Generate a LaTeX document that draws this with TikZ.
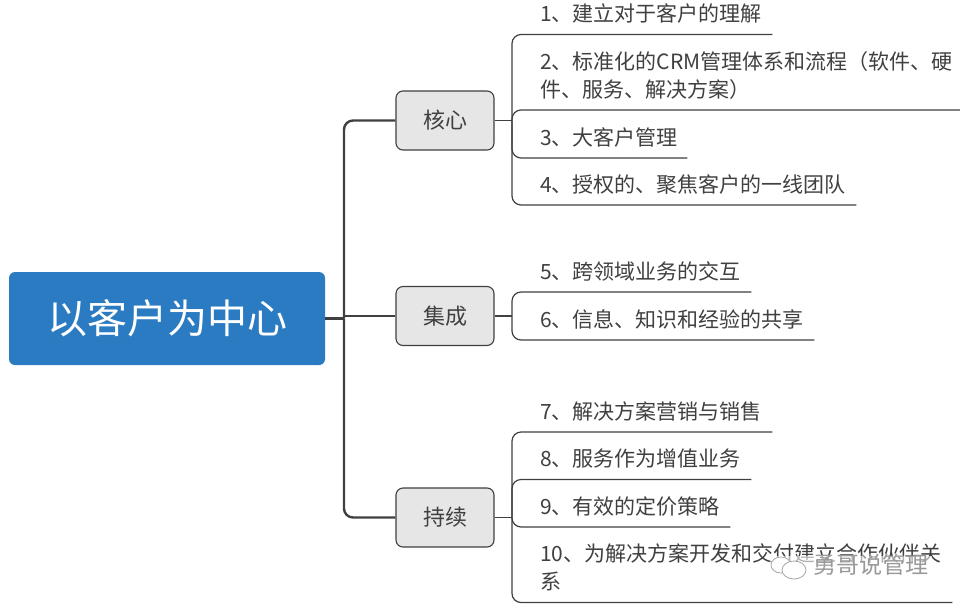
\documentclass[tikz,border=0pt]{standalone}
\usepackage{fontspec}
\setmainfont{Noto Sans CJK SC}
\definecolor{rootblue}{HTML}{2B7BC2}
\definecolor{inkgrey}{HTML}{404040}
\definecolor{topicgrey}{HTML}{E6E6E6}
\tikzset{
  rootbox/.style={draw=none,fill=rootblue,rounded corners=6pt,text=white,font=\fontsize{40}{44}\selectfont,minimum width=316pt,minimum height=93pt},
  topicbox/.style={draw=inkgrey,line width=1.1pt,fill=topicgrey,rounded corners=7pt,text=inkgrey,font=\fontsize{22}{26}\selectfont,minimum width=98pt,minimum height=59pt},
  leafitem/.style={anchor=south west,inner xsep=0pt,inner ysep=7.5pt,text depth=5pt,align=left,text=inkgrey,font=\fontsize{21}{28}\selectfont},
  trunkline/.style={draw=inkgrey,line width=2.4pt,rounded corners=9pt},
  leafline/.style={draw=inkgrey,line width=1.2pt,rounded corners=9pt},
}
\begin{document}
\begin{tikzpicture}[x=1pt,y=-1pt]
\path[use as bounding box,fill=white] (0,0) rectangle (960,608);
% main topic and the three groups
\node[rootbox] (root) at (167,318.5) {以客户为中心};
\node[topicbox] (hexin) at (445,120.5) {核心};
\node[topicbox] (jicheng) at (445,316) {集成};
\node[topicbox] (chixu) at (445,517.5) {持续};
\coordinate (trunk) at (344,318.5);
\coordinate (hubhexin) at (512,120.5);
\coordinate (hubjicheng) at (512,316);
\coordinate (hubchixu) at (512,517.5);
\draw[trunkline] (root.east) -- (trunk);
\draw[trunkline] (trunk) |- (hexin.west);
\draw[trunkline] (trunk) |- (chixu.west);
\draw[draw=inkgrey,line width=1.3pt] (trunk|-jicheng.west) -- (jicheng.west);
% leaves
\node[leafitem,text width=232pt] (leafa) at (540,34.5) {1、建立对于客户的理解};
\node[leafitem,text width=420pt,text depth=33pt] (leafb) at (540,110) {2、标准化的CRM管理体系和流程（软件、硬\\件、服务、解决方案）};
\node[leafitem,text width=147pt] (leafc) at (540,158) {3、大客户管理};
\node[leafitem,text width=316pt] (leafd) at (540,205) {4、授权的、聚焦客户的一线团队};
\node[leafitem,text width=211pt] (leafe) at (540,292) {5、跨领域业务的交互};
\node[leafitem,text width=274pt] (leaff) at (540,340) {6、信息、知识和经验的共享};
\node[leafitem,text width=232pt] (leafg) at (540,432) {7、解决方案营销与销售};
\node[leafitem,text width=211pt] (leafh) at (540,479.5) {8、服务作为增值业务};
\node[leafitem,text width=190pt] (leafi) at (540,527) {9、有效的定价策略};
\node[leafitem,text width=412pt,text depth=33pt] (leafj) at (540,602.5) {10、为解决方案开发和交付建立合作伙伴关\\系};
% connectors to the leaves
\draw[leafline] (hexin.east) -- (hubhexin);
\draw[leafline] (jicheng.east) -- (hubjicheng);
\draw[leafline] (chixu.east) -- (hubchixu);
\draw[leafline] (hubhexin) |- (leafa.south east);
\draw[leafline] (hubhexin) |- (leafb.south east);
\draw[leafline] (hubhexin) |- (leafc.south east);
\draw[leafline] (hubhexin) |- (leafd.south east);
\draw[leafline] (hubjicheng) |- (leafe.south east);
\draw[leafline] (hubjicheng) |- (leaff.south east);
\draw[leafline] (hubchixu) |- (leafg.south east);
\draw[leafline] (hubchixu) |- (leafh.south east);
\draw[leafline] (hubchixu) |- (leafi.south east);
\draw[leafline] (hubchixu) |- (leafj.south east);
% watermark
\fill[white,opacity=.6] (770,556) rectangle (932,582);
\draw[black!35,line width=.8pt,fill=white] (781,565) ellipse[x radius=10,y radius=8];
\draw[black!35,line width=.8pt,fill=white] (794,570) ellipse[x radius=12,y radius=9];
\node[text=black!40,inner sep=0pt,font=\fontsize{23}{26}\selectfont] (mark) at (871,564.5) {勇哥说管理};
\end{tikzpicture}
\end{document}
